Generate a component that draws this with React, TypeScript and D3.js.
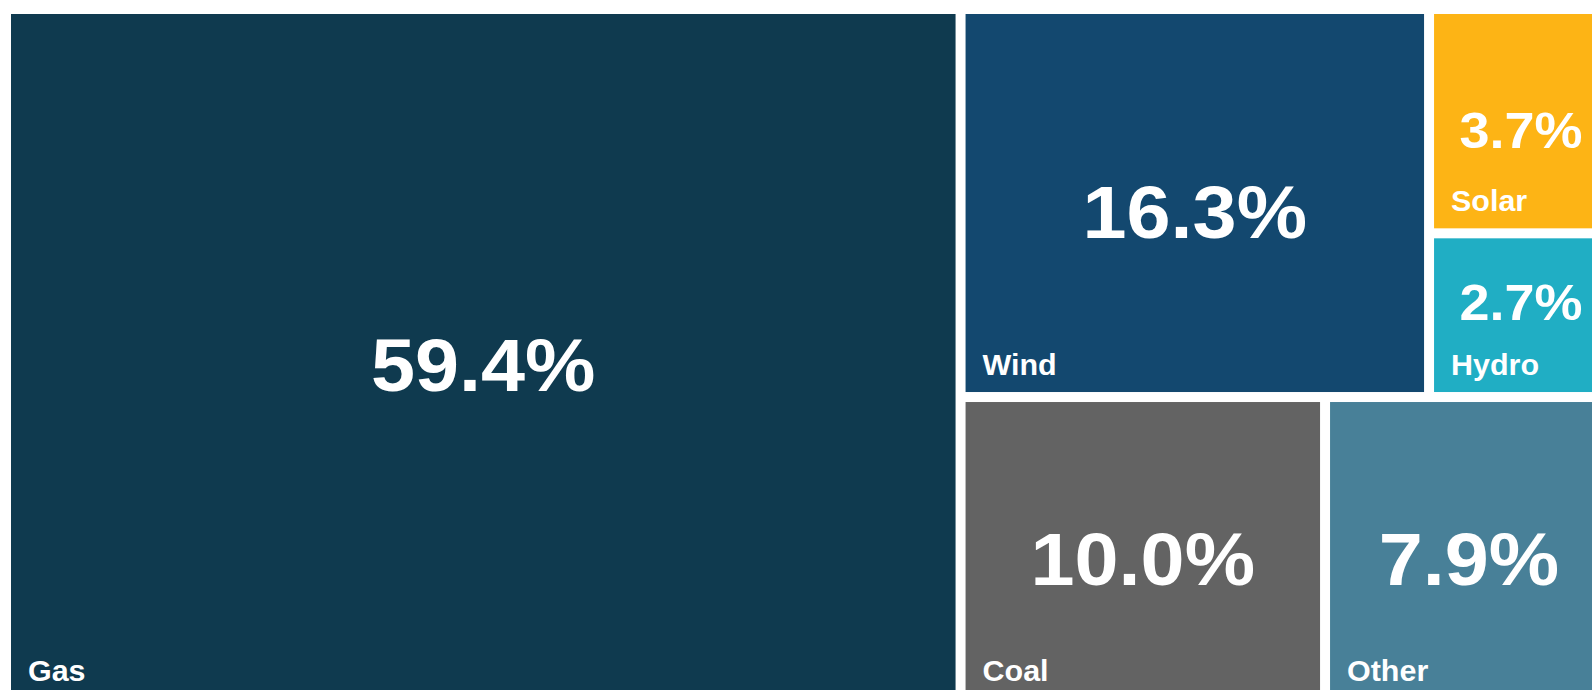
import React, { useMemo } from 'react';
import * as d3 from 'd3';

// electricity mix, share of generation (%)
const categories = ['Gas', 'Wind', 'Solar', 'Hydro', 'Coal', 'Other'];
const shares = [59.4, 16.3, 3.7, 2.7, 10.0, 7.9];
// nesting of the blocks, decides how the area gets split
const groupPaths = ['', 'Rest/Top', 'Rest/Top/Small', 'Rest/Top/Small', 'Rest/Bottom', 'Rest/Bottom'];
const colors = ['#0f3a4f', '#13486f', '#fdb415', '#20aec4', '#636363', '#488098'];

interface Row {
  name: string;
  share: number;
  color: string;
  path: string;
}

const width = 1592;
const height = 690;
const offset = { left: 11, top: 14 };
const mapSize: [number, number] = [1597, 684];
const gap = 10;
const fontFamily = '"Liberation Sans", Arial, Helvetica, sans-serif';
// the original face is a bit wider than Liberation Sans
const stretch = 1.07;

const App: React.FC = () => {
  const leaves = useMemo(() => {
    const rows: Row[] = categories.map((name, i) => ({
      name,
      share: shares[i],
      color: colors[i],
      path: (groupPaths[i] ? '/' + groupPaths[i] : '') + '/' + name,
    }));

    const root = d3.stratify<Row>().path(d => d.path)(rows)
      .sum(d => (d && d.share) || 0);

    d3.treemap<Row>()
      .tile(d3.treemapBinary)
      .size(mapSize)
      .paddingInner(gap)(root);

    return (root as d3.HierarchyRectangularNode<Row>).leaves();
  }, []);

  return (
    <svg
      width={width}
      height={height}
      style={{ position: 'absolute', left: 0, top: 0, display: 'block', background: '#fff' }}
    >
      <g transform={`translate(${offset.left},${offset.top})`} fontFamily={fontFamily} fontWeight="bold">
        {leaves.map(d => {
          const w = d.x1 - d.x0;
          const fs = Math.min(74, w * 0.29);
          const nameY = d.y1 - 17;
          const cy = (d.y0 + d.y1) / 2;
          // keep the big number clear of the name when the block is short
          const pctY = Math.min(cy + 0.35 * fs + 9, nameY - 1.1 * fs);
          return (
            <g key={d.data.name}>
              <rect x={d.x0} y={d.y0} width={w} height={d.y1 - d.y0} fill={d.data.color} />
              <text
                transform={`translate(${(d.x0 + d.x1) / 2},${pctY}) scale(${stretch},1)`}
                textAnchor="middle"
                fill="#fff"
                fontSize={fs}
              >
                {d.data.share.toFixed(1)}%
              </text>
              <text
                transform={`translate(${d.x0 + 17},${nameY}) scale(1.05,1)`}
                fill="#fff"
                fontSize={29}
              >
                {d.data.name}
              </text>
            </g>
          );
        })}
      </g>
    </svg>
  );
};

export default App;
